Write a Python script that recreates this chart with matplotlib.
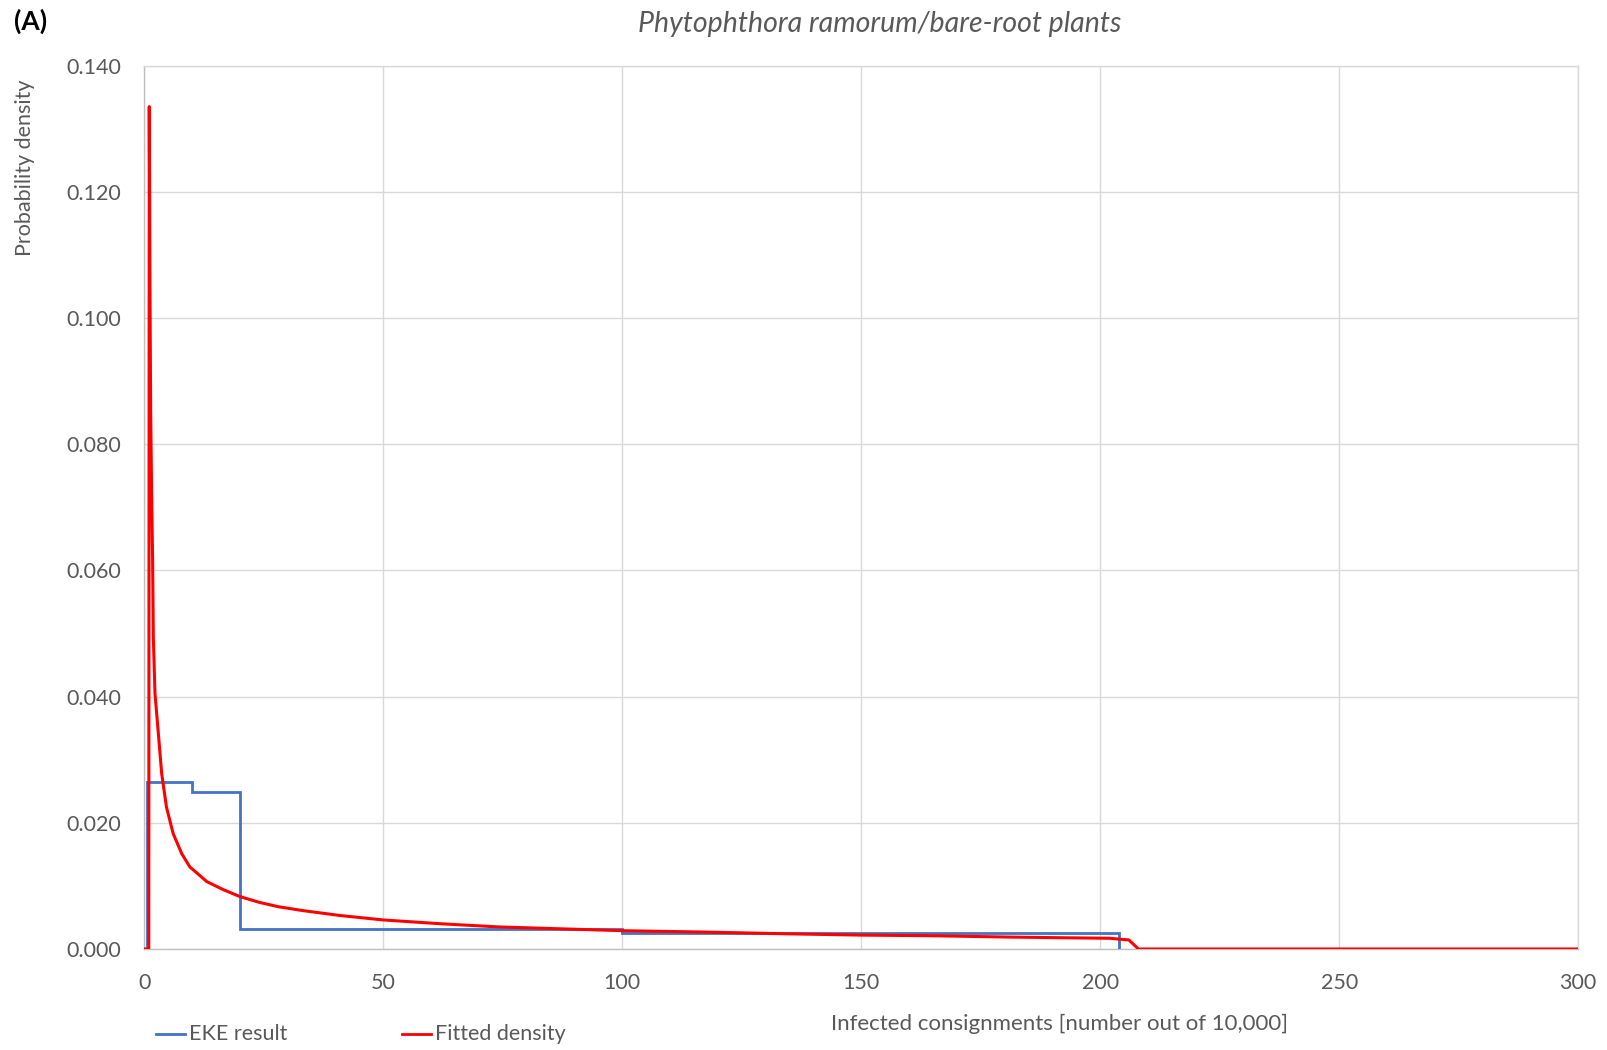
import matplotlib
matplotlib.use("Agg")
import matplotlib.pyplot as plt
from matplotlib.lines import Line2D

plt.rcParams['font.family'] = ['Lato', 'DejaVu Sans']

# EKE result step histogram (bin edges and densities)
eke_edges = [0.5, 10, 20, 100, 204]
eke_density = [0.0265, 0.0249, 0.00317, 0.00254]

# Fitted density curve
fit_x = [0, 0.9, 1.0, 1.15, 1.3, 1.5, 1.7, 1.85, 2.2, 2.9, 3.6, 4.6, 6.0, 7.8, 9.5,
         11.5, 13.0, 16.5, 20, 24, 28, 33, 41, 50, 62, 74, 87, 100, 116, 135, 150, 165,
         180, 190, 202, 206, 208, 300]
fit_y = [0, 0, 0.1335, 0.105, 0.085, 0.072, 0.062, 0.0495, 0.0405, 0.0342, 0.0278,
         0.0225, 0.0183, 0.0151, 0.0130, 0.0117, 0.0107, 0.0094, 0.0083, 0.0074,
         0.0067, 0.0061, 0.0053, 0.0046, 0.0040, 0.0035, 0.0032, 0.0029, 0.0027,
         0.0024, 0.0022, 0.0021, 0.0019, 0.0018, 0.0017, 0.00143, 0, 0]

x_ticks = [0, 50, 100, 150, 200, 250, 300]
y_ticks = [0.0, 0.02, 0.04, 0.06, 0.08, 0.10, 0.12, 0.14]

title = "Phytophthora ramorum/bare-root plants"
xlabel = "Infected consignments [number out of 10,000]"
ylabel = "Probability density"
legend_labels = ["EKE result", "Fitted density"]

blue = "#4472C4"
red = "#FF0000"
grey_txt = "#595959"
grid_c = "#D9D9D9"
fs = 15.5

fig = plt.figure(figsize=(16.07, 10.5), dpi=100)
ax = fig.add_axes([0.0899, 0.0962, 0.982 - 0.0899, 0.9375 - 0.0962])

# build step path from edges
sx, sy = [eke_edges[0]], [0]
for i, d in enumerate(eke_density):
    sx += [eke_edges[i], eke_edges[i + 1]]
    sy += [d, d]
sx.append(eke_edges[-1]); sy.append(0)
ax.plot(sx, sy, color=blue, lw=2, solid_joinstyle='miter', zorder=3)
ax.plot(fit_x, fit_y, color=red, lw=2.2, zorder=4)

ax.set_xlim(0, 300)
ax.set_ylim(0, 0.14)
ax.set_xticks(x_ticks)
ax.set_yticks(y_ticks)
ax.set_yticklabels([f"{v:.3f}" for v in y_ticks])
ax.tick_params(length=0, labelsize=fs, labelcolor=grey_txt)
ax.tick_params(axis='y', pad=17)
ax.tick_params(axis='x', pad=17)
ax.grid(True, color=grid_c, lw=1)
ax.set_axisbelow(True)
for s in ax.spines.values():
    s.set_color(grid_c)
    s.set_linewidth(1)
ax.spines['left'].set_color("#BFBFBF")
ax.spines['bottom'].set_color("#BFBFBF")

fig.text(0.5475, 0.9775, title, fontsize=20.5, style='italic', color=grey_txt,
         ha='center', va='center')
fig.text(0.009, 0.98, "(A)", fontsize=19, fontweight='bold', color='black',
         ha='left', va='center')
fig.text(0.0153, 0.924, ylabel, rotation=90, fontsize=fs, color=grey_txt,
         ha='center', va='top')
fig.text(0.6595, 0.0249, xlabel, fontsize=16, color=grey_txt, ha='center', va='center')

# legend at bottom-left
ly = 0.0151
fig.add_artist(Line2D([0.097, 0.115], [ly, ly], color=blue, lw=2))
fig.text(0.1175, ly, legend_labels[0], fontsize=fs, color=grey_txt, ha='left', va='center')
fig.add_artist(Line2D([0.250, 0.268], [ly, ly], color=red, lw=2))
fig.text(0.2705, ly, legend_labels[1], fontsize=fs, color=grey_txt, ha='left', va='center')

fig.savefig("out.png", dpi=100)
